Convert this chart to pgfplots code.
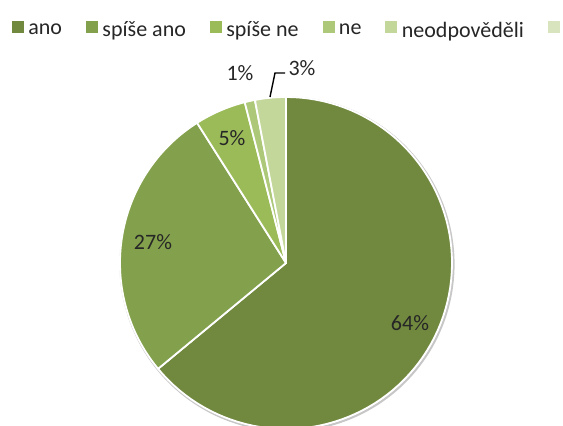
\documentclass[border=0pt]{standalone}
\usepackage{pgfplots}
\pgfplotsset{compat=1.18}
\usepackage{fontspec}
\setmainfont{Carlito}
\definecolor{c1}{RGB}{113,137,63}
\definecolor{c2}{RGB}{131,161,76}
\definecolor{c3}{RGB}{155,187,89}
\definecolor{c4}{RGB}{172,200,120}
\definecolor{c5}{RGB}{196,215,155}
\definecolor{c6}{RGB}{216,228,190}
\definecolor{txt}{RGB}{38,38,38}
% slice: start (percent), value (percent), colour
\newcommand{\slice}[3]{%
  \pgfmathsetmacro{\angA}{90-3.6*(#1)}%
  \pgfmathsetmacro{\angB}{90-3.6*(#1+#2)}%
  \edef\temp{\noexpand\addplot[fill=#3, draw=white, line width=1.8pt, line join=round, domain=\angB:\angA, samples=90, variable=\noexpand\t, forget plot] ({286+166*cos(\noexpand\t)},{163+166*sin(\noexpand\t)}) -- (axis cs:286,163) -- cycle;}%
  \temp
}
\begin{document}
\begin{tikzpicture}
\begin{axis}[
  at={(0,0)}, anchor=south west,
  width=563pt, height=426pt, scale only axis,
  xmin=0, xmax=563, ymin=0, ymax=426,
  hide axis, clip=true,
  legend image code/.code={\fill[#1] (0pt,-2.5pt) rectangle (11pt,8.5pt);},
  legend columns=-1,
  legend style={at={(axis cs:12,396)}, anchor=west, draw=none, fill=none,
    inner sep=0pt, outer sep=0pt,
    font=\fontsize{22}{26}\selectfont, text=txt,
    nodes={inner sep=0pt},
    /tikz/every odd column/.append style={column sep=5pt},
    /tikz/every even column/.append style={column sep=24pt}},
]
% shadow ring
\addplot[draw=black!22, line width=2.2pt, domain=-180:180, samples=180, variable=\t, forget plot]
  ({287+166.5*cos(t)},{161.8+166.5*sin(t)});
% slices: ano 64, spise ano 27, spise ne 5, ne 1, neodpovedeli 3
\slice{0}{64}{c1}
\slice{64}{27}{c2}
\slice{91}{5}{c3}
\slice{96}{1}{c4}
\slice{97}{3}{c5}
\addlegendimage{c1}\addlegendentry{ano}
\addlegendimage{c2}\addlegendentry{spíše ano}
\addlegendimage{c3}\addlegendentry{spíše ne}
\addlegendimage{c4}\addlegendentry{ne}
\addlegendimage{c5}\addlegendentry{neodpověděli}
\addlegendimage{c6}\addlegendentry{}
\begin{scope}[font=\fontsize{22}{26}\selectfont, text=txt]
\node at (axis cs:410,103) {64\%};
\node at (axis cs:153,184) {27\%};
\node at (axis cs:232,288) {5\%};
\node at (axis cs:240,353) {1\%};
\node at (axis cs:302,358) {3\%};
\end{scope}
\draw[black, line width=1.4pt] (axis cs:270,329) -- (axis cs:275,353) -- (axis cs:285,353);
\end{axis}
\pgfresetboundingbox
\useasboundingbox (0,0) rectangle (563pt,426pt);
\end{tikzpicture}
\end{document}
